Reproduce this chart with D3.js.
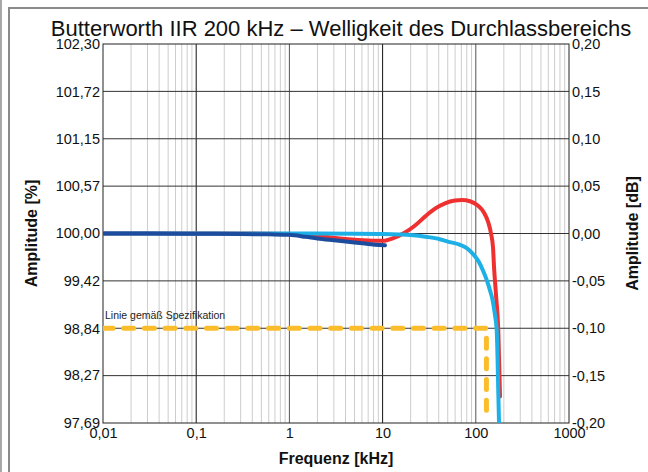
<!DOCTYPE html>
<html>
<head>
<meta charset="utf-8">
<script src="https://cdn.jsdelivr.net/npm/d3@7"></script>
<style>
  html, body { margin: 0; padding: 0; background: #fff; }
  svg { display: block; font-family: "Liberation Sans", Arial, Helvetica, sans-serif; }
</style>
</head>
<body>
<svg id="chart" width="648" height="472"></svg>
<script>
// Passband ripple of a 200 kHz Butterworth IIR filter, three measured variants.
const titleText = "Butterworth IIR 200 kHz \u2013 Welligkeit des Durchlassbereichs";

// Frequency decades on the log axis (kHz)
const freqTicks = [0.01, 0.1, 1, 10, 100, 1000];
// Right axis: amplitude in dB
const dbTicks = [0.20, 0.15, 0.10, 0.05, 0.00, -0.05, -0.10, -0.15, -0.20];
// Left axis: the same levels expressed in percent
const pctTicks = [102.30, 101.72, 101.15, 100.57, 100.00, 99.42, 98.84, 98.27, 97.69];

// Series 1 (dark blue): only measured up to ~10 kHz
const darkFreq = [0.01, 0.03, 0.1, 0.3, 0.6, 1, 1.5, 2, 3, 5, 7, 10.6];
const darkDb   = [0, 0, -0.0002, -0.0005, -0.0009, -0.0014, -0.0035, -0.0052, -0.0071, -0.0094, -0.011, -0.0125];

// Series 2 (red): slight dip, then a peaking overshoot before the roll-off
const redFreq = [0.01, 0.3, 1, 2, 4, 7, 10, 13, 17.4, 22.3, 28.5, 36.5, 46.7, 59.8, 71.1, 86.7, 105.7, 122.5, 135.2, 145.6, 153, 157, 164.8, 174.3, 182];
const redDb   = [0, 0, -0.0005, -0.0026, -0.0057, -0.0073, -0.0077, -0.0050, 0.0010, 0.0084, 0.0178, 0.0262, 0.0319, 0.0348, 0.0353, 0.0340, 0.0293, 0.0220, 0.0126, 0.0000, -0.0147, -0.0360, -0.0650, -0.1020, -0.1720];

// Series 3 (light blue): flat passband with a smooth roll-off
const cyanFreq = [0.01, 1, 5, 10, 15, 20, 30, 41, 50, 68, 80, 94, 108, 120, 132, 142, 152, 160, 167.6, 171, 174, 178, 182];
const cyanDb   = [0, 0, -0.0002, -0.0005, -0.0010, -0.0016, -0.0036, -0.0060, -0.0085, -0.0120, -0.0155, -0.0220, -0.0300, -0.0396, -0.0500, -0.0600, -0.0710, -0.0850, -0.1020, -0.1300, -0.1640, -0.2050, -0.2500];

// Specification limit (-0.10 dB up to the corner frequency)
const specFreq = [0.01, 130, 130];
const specDb   = [-0.10, -0.10, -0.192];
const specLabel = "Linie gem\u00e4\u00df Spezifikation";

const xTitle = "Frequenz [kHz]";
const yLeftTitle = "Amplitude [%]";
const yRightTitle = "Amplitude [dB]";

// ---------------------------------------------------------------------
const W = 648, H = 472;
const margin = { left: 103, right: W - 569, top: 44, bottom: H - 423 };
const pw = W - margin.left - margin.right;
const ph = H - margin.top - margin.bottom;

const svg = d3.select("#chart");

// outer page frame
svg.append("line").attr("x1", 1).attr("x2", 1).attr("y1", 0).attr("y2", H)
  .attr("stroke", "#a8a8a8").attr("stroke-width", 2);
svg.append("rect").attr("x", 9).attr("y", 8).attr("width", W + 20).attr("height", H + 20)
  .attr("fill", "#fff").attr("stroke", "#8a8a8a").attr("stroke-width", 2);

const deLocale = d3.formatLocale({ decimal: ",", thousands: ".", grouping: [3], currency: ["", " \u20ac"], minus: "-" });
const fmt2 = deLocale.format(".2f");
const fmtFreq = d => deLocale.format(d < 1 ? ".2~f" : "d")(d);

const x = d3.scaleLog().domain([0.01, 1000]).range([0, pw]);
const yDb = d3.scaleLinear().domain([-0.2, 0.2]).range([ph, 0]);
const yPct = d3.scaleLinear().domain([97.69, 102.30]).range([ph, 0]);

const g = svg.append("g").attr("transform", `translate(${margin.left},${margin.top})`);

g.append("defs").append("clipPath").attr("id", "plotClip")
  .append("rect").attr("width", pw).attr("height", ph);

// minor vertical grid
const minorTicks = [];
for (let i = 0; i < freqTicks.length - 1; i++) {
  for (let k = 2; k <= 9; k++) minorTicks.push(freqTicks[i] * k);
}
g.append("g").selectAll("line").data(minorTicks).join("line")
  .attr("x1", d => x(d)).attr("x2", d => x(d))
  .attr("y1", 0).attr("y2", ph)
  .attr("stroke", "#cdcdcd").attr("stroke-width", 1);

// major vertical grid (decades)
g.append("g").selectAll("line").data(freqTicks.slice(1, -1)).join("line")
  .attr("x1", d => x(d)).attr("x2", d => x(d))
  .attr("y1", 0).attr("y2", ph)
  .attr("stroke", (d, i) => i % 2 === 0 ? "#111" : "#555").attr("stroke-width", 1);

// horizontal grid
g.append("g").selectAll("line").data(dbTicks.slice(1, -1)).join("line")
  .attr("x1", 0).attr("x2", pw)
  .attr("y1", d => yDb(d)).attr("y2", d => yDb(d))
  .attr("stroke", "#333").attr("stroke-width", 1);

// axes
const axisFont = 14.5;
const xAxis = g.append("g").attr("transform", `translate(0,${ph})`)
  .call(d3.axisBottom(x).tickValues(freqTicks).tickFormat(fmtFreq).tickSize(0).tickPadding(5));
const yLeft = g.append("g")
  .call(d3.axisLeft(yPct).tickValues(pctTicks).tickFormat(fmt2).tickSize(0).tickPadding(3));
const yRight = g.append("g").attr("transform", `translate(${pw},0)`)
  .call(d3.axisRight(yDb).tickValues(dbTicks).tickFormat(fmt2).tickSize(0).tickPadding(3));
[xAxis, yLeft, yRight].forEach(a => {
  a.select(".domain").remove();
  a.selectAll("text").attr("fill", "#111").style("font-size", axisFont + "px")
    .style("font-family", "\"Liberation Sans\", Arial, sans-serif");
});

// plot border
g.append("rect").attr("width", pw).attr("height", ph)
  .attr("fill", "none").attr("stroke", "#222").attr("stroke-width", 1);

// curves
const line = (fs, ds) => d3.line()
  .x((d, i) => x(fs[i])).y((d, i) => yDb(ds[i]))
  .curve(d3.curveMonotoneX)(ds);

const plot = g.append("g").attr("clip-path", "url(#plotClip)");

// specification limit
plot.append("path")
  .attr("d", d3.line().x((d, i) => x(specFreq[i])).y((d, i) => yDb(specDb[i]))(specDb))
  .attr("fill", "none").attr("stroke", "#fbbd2b").attr("stroke-width", 5)
  .attr("stroke-linecap", "round").attr("stroke-linejoin", "round")
  .attr("stroke-dasharray", "10,10.7");

plot.append("path").attr("d", line(redFreq, redDb))
  .attr("fill", "none").attr("stroke", "#ee3130").attr("stroke-width", 4).attr("stroke-linecap", "round");
plot.append("path").attr("d", line(cyanFreq, cyanDb))
  .attr("fill", "none").attr("stroke", "#1cb0e6").attr("stroke-width", 4).attr("stroke-linecap", "round");
plot.append("path").attr("d", line(darkFreq, darkDb))
  .attr("fill", "none").attr("stroke", "#1c4c9e").attr("stroke-width", 4).attr("stroke-linecap", "round");

// spec label
g.append("text").attr("x", x(0.0105)).attr("y", yDb(-0.10) - 9)
  .attr("fill", "#222").style("font-size", "10.5px").text(specLabel);

// titles
svg.append("text").attr("x", 341).attr("y", 36).attr("text-anchor", "middle")
  .attr("fill", "#111").style("font-size", "22px").text(titleText);
svg.append("text").attr("x", margin.left + pw / 2).attr("y", 464).attr("text-anchor", "middle")
  .attr("fill", "#111").style("font-size", "16px").style("font-weight", "bold").text(xTitle);
svg.append("text").attr("transform", `translate(37,${margin.top + ph / 2}) rotate(-90)`)
  .attr("text-anchor", "middle").attr("fill", "#111")
  .style("font-size", "16px").style("font-weight", "bold").text(yLeftTitle);
svg.append("text").attr("transform", `translate(638,${margin.top + ph / 2}) rotate(-90)`)
  .attr("text-anchor", "middle").attr("fill", "#111")
  .style("font-size", "16px").style("font-weight", "bold").text(yRightTitle);
</script>
</body>
</html>
